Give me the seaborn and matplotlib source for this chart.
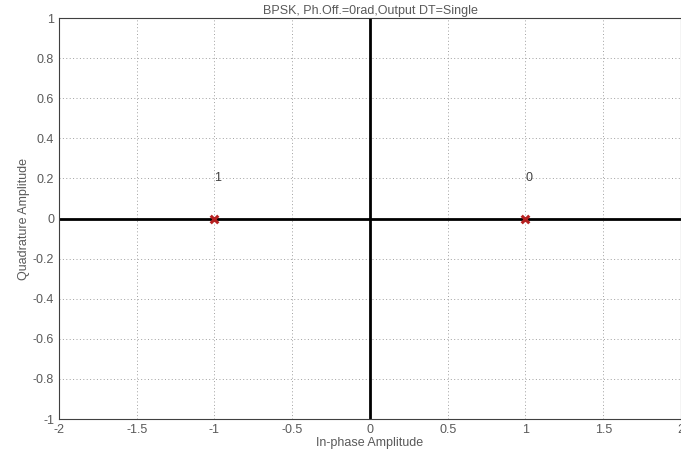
import matplotlib
matplotlib.use("Agg")
import matplotlib.pyplot as plt
import seaborn as sns
import pandas as pd

# BPSK constellation points and their bit labels
in_phase = [-1.0, 1.0]
quadrature = [0.0, 0.0]
bit_labels = ["1", "0"]
label_offset = 0.2

x_ticks = [-2, -1.5, -1, -0.5, 0, 0.5, 1, 1.5, 2]
y_ticks = [-1, -0.8, -0.6, -0.4, -0.2, 0, 0.2, 0.4, 0.6, 0.8, 1]

sns.set_style("white")
plt.rcParams["font.family"] = ["Liberation Sans", "DejaVu Sans"]

df = pd.DataFrame({"I": in_phase, "Q": quadrature, "bit": bit_labels})

fig = plt.figure(figsize=(6.81, 4.63), dpi=100)
ax = fig.add_axes([0.0866, 0.095, 0.9134, 0.866])

ax.set_xlim(-2, 2)
ax.set_ylim(-1, 1)
ax.set_xticks(x_ticks)
ax.set_yticks(y_ticks)
ax.set_xticklabels([f"{t:g}" for t in x_ticks])
ax.set_yticklabels([f"{t:g}" for t in y_ticks])

txt_col = "#5a5a5a"
ax.tick_params(axis="both", labelsize=9, colors=txt_col, direction="in",
               length=3, width=0.6)
ax.grid(True, linestyle=(0, (1, 2.5)), color="#a0a0a0", linewidth=0.7)
for s in ax.spines.values():
    s.set_color("#404040")
    s.set_linewidth(0.8)

# Axis lines through the origin
ax.axhline(0, color="black", linewidth=2, zorder=2)
ax.axvline(0, color="black", linewidth=2, zorder=2)

sns.scatterplot(data=df, x="I", y="Q", marker="x", color="#b52020", s=30,
                linewidth=2.2, ax=ax, zorder=3, legend=False)

for xi, yi, lab in zip(df["I"], df["Q"], df["bit"]):
    ax.text(xi, yi + label_offset, lab, fontsize=9, color="#404040",
            ha="left", va="center")

ax.set_xlabel("In-phase Amplitude", fontsize=9, color=txt_col, labelpad=1)
ax.set_ylabel("Quadrature Amplitude", fontsize=9, color=txt_col, labelpad=2)
ax.set_title("BPSK, Ph.Off.=0rad,Output DT=Single", fontsize=9,
             color=txt_col, pad=3)

fig.savefig("out.png", dpi=100)
